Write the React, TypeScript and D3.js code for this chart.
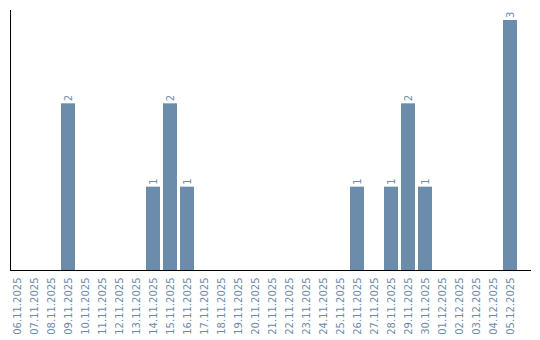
import React from "react";
import * as d3 from "d3";

const dates = [
  "06.11.2025","07.11.2025","08.11.2025","09.11.2025","10.11.2025","11.11.2025",
  "12.11.2025","13.11.2025","14.11.2025","15.11.2025","16.11.2025","17.11.2025",
  "18.11.2025","19.11.2025","20.11.2025","21.11.2025","22.11.2025","23.11.2025",
  "24.11.2025","25.11.2025","26.11.2025","27.11.2025","28.11.2025","29.11.2025",
  "30.11.2025","01.12.2025","02.12.2025","03.12.2025","04.12.2025","05.12.2025",
];
const counts = [0,0,0,2,0,0,0,0,1,2,1,0,0,0,0,0,0,0,0,0,1,0,1,2,1,0,0,0,0,3];

const W = 540, H = 340;
const barColor = "#6b8cab";
const textColor = "#6b8cab";

export default function App() {
  const x = d3.scaleBand<string>().domain(dates).range([10, 517]).paddingInner(3 / 17).paddingOuter(0);
  const y = d3.scaleLinear().domain([0, 3]).range([270, 20]);
  const font = "'DejaVu Sans', Verdana, sans-serif";
  return (
    <svg width={W} height={H} style={{ position: "absolute", left: 0, top: 0 }}>
      {dates.map((d, i) =>
        counts[i] > 0 ? (
          <g key={d}>
            <rect x={x(d)} y={y(counts[i])} width={x.bandwidth()} height={y(0) - y(counts[i])} fill={barColor} />
            <text
              transform={`translate(${(x(d) as number) + x.bandwidth() / 2 + 3.5},${y(counts[i]) - 2}) rotate(-90)`}
              fontSize={10}
              fontFamily={font}
              fill={textColor}
              textAnchor="start"
            >
              {counts[i]}
            </text>
          </g>
        ) : null
      )}
      <line x1={10.5} x2={10.5} y1={10} y2={270} stroke="#000" strokeWidth={1} />
      <line x1={10} x2={531} y1={270.5} y2={270.5} stroke="#000" strokeWidth={1} />
      {dates.map((d) => (
        <text
          key={"l" + d}
          transform={`translate(${(x(d) as number) + x.bandwidth() / 2 + 3.5},277.5) rotate(-90)`}
          fontSize={10}
          fontFamily={font}
          fill={textColor}
          textAnchor="end"
        >
          {d}
        </text>
      ))}
    </svg>
  );
}
